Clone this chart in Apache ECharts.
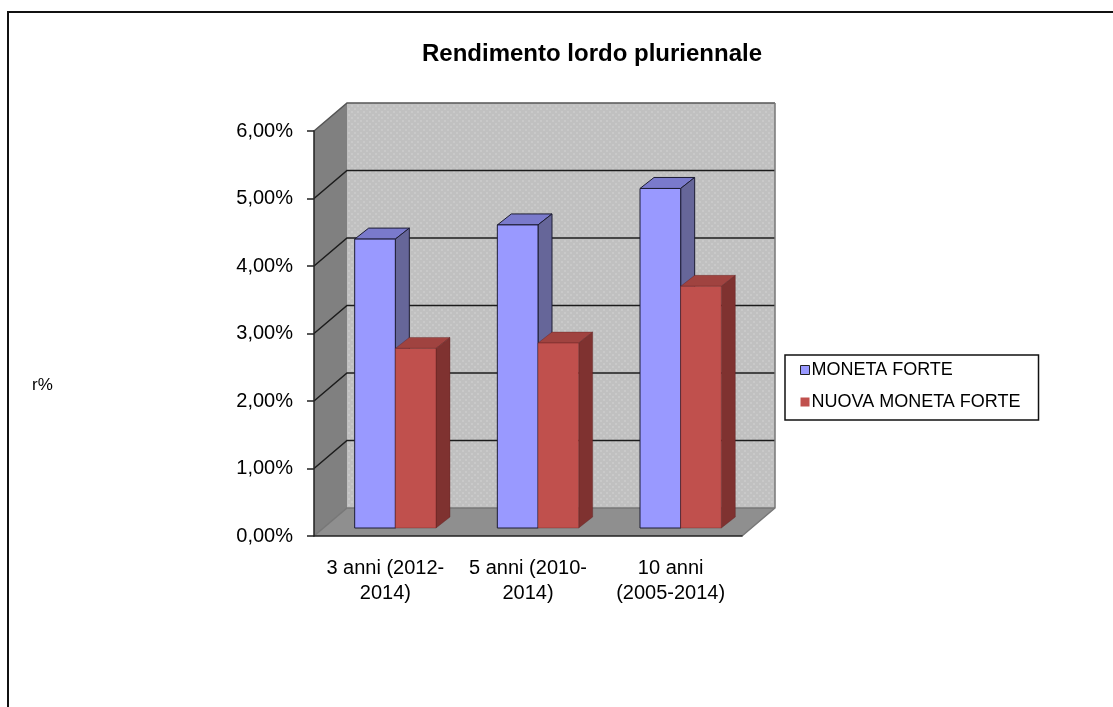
<!DOCTYPE html>
<html>
<head>
<meta charset="utf-8">
<style>
  html, body { margin: 0; padding: 0; background: #fff; }
  #canvas { width: 1113px; height: 707px; }
</style>
<script src="https://cdn.jsdelivr.net/npm/echarts@6/dist/echarts.min.js"></script>
</head>
<body>
<div id="canvas"></div>
<script>
var categories = ['3 anni (2012-\n2014)', '5 anni (2010-\n2014)', '10 anni\n(2005-2014)'];
var monetaForte = [4.28, 4.49, 5.03];
var nuovaMonetaForte = [2.66, 2.74, 3.58];
var yTicks = [0, 1, 2, 3, 4, 5, 6];
var seriesNames = ['MONETA FORTE', 'NUOVA MONETA FORTE'];

var FONT = '"Liberation Sans", Arial, sans-serif';
// depth of the fake 3d box, in px
var DX = 33, DY = -28;
// bars sit a bit inside the box
var BAR_DX = 10, BAR_DY = -8, BAR_DEPTH_X = 14, BAR_DEPTH_Y = -11;

function wallTexture() {
    var c = document.createElement('canvas');
    c.width = 6; c.height = 6;
    var ctx = c.getContext('2d');
    ctx.fillStyle = '#c0c0c0';
    ctx.fillRect(0, 0, 6, 6);
    ctx.fillStyle = '#c9c9c9';
    ctx.fillRect(0, 0, 2, 2);
    ctx.fillRect(3, 3, 2, 2);
    return c;
}
var texture = wallTexture();

function renderWalls(params, api) {
    var y0 = api.coord([0, 0])[1];
    var y6 = api.coord([0, 6])[1];
    var left = params.coordSys.x;
    var right = left + params.coordSys.width;
    var kids = [];
    // back wall
    kids.push({
        type: 'polygon',
        shape: {points: [[left + DX, y6 + DY], [right + DX, y6 + DY], [right + DX, y0 + DY], [left + DX, y0 + DY]]},
        style: {fill: {image: texture, repeat: 'repeat'}}
    });
    // left wall
    kids.push({
        type: 'polygon',
        shape: {points: [[left, y6], [left + DX, y6 + DY], [left + DX, y0 + DY], [left, y0]]},
        style: {fill: '#808080'}
    });
    // floor
    kids.push({
        type: 'polygon',
        shape: {points: [[left, y0], [left + DX, y0 + DY], [right + DX, y0 + DY], [right, y0]]},
        style: {fill: '#8f8f8f'}
    });
    // grid lines, wrap from left wall on to the back wall
    yTicks.forEach(function (t) {
        var y = api.coord([0, t])[1];
        kids.push({
            type: 'polyline',
            shape: {points: [[left, y], [left + DX, y + DY], [right + DX, y + DY]]},
            style: {fill: null, stroke: t === 0 ? '#777' : (t === 6 ? '#555' : '#1c1c1c'), lineWidth: 1.5}
        });
    });
    // right edge
    kids.push({
        type: 'polyline',
        shape: {points: [[right + DX, y6 + DY], [right + DX, y0 + DY], [right, y0]]},
        style: {fill: null, stroke: '#777', lineWidth: 1.5}
    });
    return {type: 'group', children: kids};
}

function barRender(index, front, top, side, line) {
    return function (params, api) {
        var cat = api.value(0);
        var catW = api.size([1, 0])[0];
        var barW = catW * 0.285;
        var c = api.coord([cat, api.value(1)]);
        var base = api.coord([cat, 0]);
        var x1 = c[0] + BAR_DX - barW + index * barW;
        var x2 = x1 + barW;
        var yT = c[1] + BAR_DY;
        var yB = base[1] + BAR_DY;
        var st = {stroke: line, lineWidth: 1, lineJoin: 'round'};
        return {
            type: 'group',
            children: [{
                type: 'polygon',
                shape: {points: [[x1, yT], [x1 + BAR_DEPTH_X, yT + BAR_DEPTH_Y], [x2 + BAR_DEPTH_X, yT + BAR_DEPTH_Y], [x2, yT]]},
                style: Object.assign({fill: top}, st)
            }, {
                type: 'polygon',
                shape: {points: [[x2, yT], [x2 + BAR_DEPTH_X, yT + BAR_DEPTH_Y], [x2 + BAR_DEPTH_X, yB + BAR_DEPTH_Y], [x2, yB]]},
                style: Object.assign({fill: side}, st)
            }, {
                type: 'rect',
                shape: {x: x1, y: yT, width: barW, height: yB - yT},
                style: Object.assign({fill: front}, st)
            }]
        };
    };
}

function pairs(values) {
    return values.map(function (v, i) { return [i, v]; });
}

var chart = echarts.init(document.getElementById('canvas'), null, {renderer: 'canvas'});
chart.setOption({
    animation: false,
    backgroundColor: '#fff',
    title: {
        text: 'Rendimento lordo pluriennale',
        left: 587, top: 37, textAlign: 'center',
        textStyle: {fontFamily: FONT, fontSize: 24, fontWeight: 'bold', color: '#000'}
    },
    legend: {
        orient: 'vertical',
        left: 785, top: 355,
        padding: [6, 18, 9, 15],
        itemGap: 14,
        itemWidth: 9, itemHeight: 9,
        backgroundColor: '#fff',
        borderColor: '#111', borderWidth: 1.5, borderRadius: 0,
        textStyle: {fontFamily: FONT, fontSize: 18, color: '#000', padding: [0, 0, 0, -3]},
        data: [
            {name: seriesNames[0], icon: 'rect', itemStyle: {color: '#9999ff', borderColor: '#222', borderWidth: 1}},
            {name: seriesNames[1], icon: 'rect', itemStyle: {color: '#c0504d', borderWidth: 0}}
        ]
    },
    grid: {left: 314, right: 371, top: 131, bottom: 171},
    xAxis: {
        type: 'category',
        data: categories,
        z: 5,
        axisLine: {lineStyle: {color: '#222', width: 1.5}},
        axisTick: {length: 8, alignWithLabel: false, lineStyle: {color: '#222', width: 1.5}},
        axisLabel: {fontFamily: FONT, fontSize: 20, color: '#000', lineHeight: 25, margin: 20, interval: 0}
    },
    yAxis: {
        type: 'value',
        min: 0, max: 6, interval: 1,
        z: 5,
        splitLine: {show: false},
        axisLine: {show: true, lineStyle: {color: '#222', width: 1.5}},
        axisTick: {show: true, length: 7, lineStyle: {color: '#222', width: 1.5}},
        axisLabel: {
            fontFamily: FONT, fontSize: 20, color: '#000', margin: 21,
            formatter: function (v) { return v.toFixed(2).replace('.', ',') + '%'; }
        }
    },
    graphic: [{
        type: 'rect',
        shape: {x: 8, y: 12, width: 1200, height: 800},
        style: {fill: null, stroke: '#111', lineWidth: 2},
        silent: true
    }, {
        type: 'text',
        x: 32, y: 377,
        style: {text: 'r%', fontFamily: FONT, fontSize: 17, fill: '#000'},
        silent: true
    }],
    series: [{
        type: 'custom',
        name: 'walls',
        z: 1,
        silent: true,
        renderItem: renderWalls,
        data: [[0, 0]]
    }, {
        type: 'custom',
        name: seriesNames[0],
        z: 2,
        itemStyle: {color: '#9999ff'},
        renderItem: barRender(0, '#9999ff', '#7a7acc', '#666699', '#1d1d33'),
        data: pairs(monetaForte)
    }, {
        type: 'custom',
        name: seriesNames[1],
        z: 3,
        itemStyle: {color: '#c0504d'},
        renderItem: barRender(1, '#c0504d', '#a04340', '#7f3230', 'rgba(90,30,30,0.35)'),
        data: pairs(nuovaMonetaForte)
    }]
});
</script>
</body>
</html>
